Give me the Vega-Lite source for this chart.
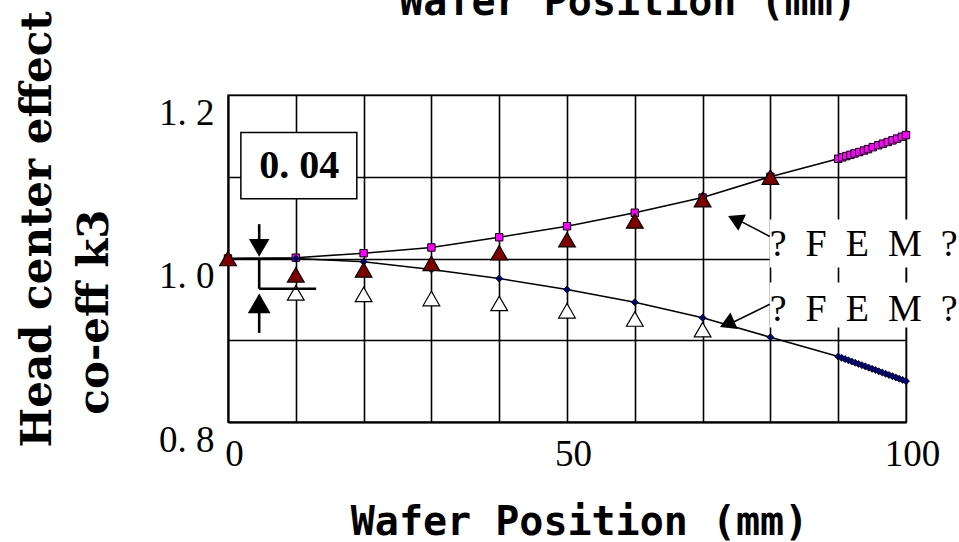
{
  "$schema": "https://vega.github.io/schema/vega-lite/v6.json",
  "width": 678,
  "height": 327,
  "autosize": {"type": "none"},
  "padding": {"left": 228, "top": 95, "right": 53, "bottom": 120},
  "background": "white",
  "config": {"view": {"stroke": "#808080", "strokeWidth": 2}},
  "datasets": {
    "curves": [
      {"x": 0, "y": 1.0, "s": "upper"}, {"x": 10, "y": 1.001, "s": "upper"}, {"x": 20, "y": 1.0065, "s": "upper"}, {"x": 30, "y": 1.0135, "s": "upper"}, {"x": 40, "y": 1.026, "s": "upper"}, {"x": 50, "y": 1.0395, "s": "upper"}, {"x": 60, "y": 1.056, "s": "upper"}, {"x": 70, "y": 1.0746, "s": "upper"}, {"x": 80, "y": 1.1, "s": "upper"},
      {"x": 90, "y": 1.122, "s": "upper"}, {"x": 90.6, "y": 1.1237, "s": "upper"}, {"x": 91.2, "y": 1.1253, "s": "upper"}, {"x": 91.8, "y": 1.1268, "s": "upper"}, {"x": 92.4, "y": 1.1285, "s": "upper"}, {"x": 93.1, "y": 1.1302, "s": "upper"}, {"x": 93.8, "y": 1.1321, "s": "upper"}, {"x": 94.4, "y": 1.1338, "s": "upper"}, {"x": 95.1, "y": 1.1362, "s": "upper"}, {"x": 95.9, "y": 1.1385, "s": "upper"}, {"x": 96.6, "y": 1.1405, "s": "upper"}, {"x": 97.3, "y": 1.1425, "s": "upper"}, {"x": 98.0, "y": 1.1445, "s": "upper"}, {"x": 98.7, "y": 1.1467, "s": "upper"}, {"x": 99.4, "y": 1.149, "s": "upper"}, {"x": 100, "y": 1.151, "s": "upper"},
      {"x": 0, "y": 1.0, "s": "lower"}, {"x": 10, "y": 1.0, "s": "lower"}, {"x": 20, "y": 0.996, "s": "lower"}, {"x": 30, "y": 0.9866, "s": "lower"}, {"x": 40, "y": 0.9755, "s": "lower"}, {"x": 50, "y": 0.962, "s": "lower"}, {"x": 60, "y": 0.9465, "s": "lower"}, {"x": 70, "y": 0.9275, "s": "lower"}, {"x": 80, "y": 0.9037, "s": "lower"},
      {"x": 90, "y": 0.88, "s": "lower"}, {"x": 90.5, "y": 0.8785, "s": "lower"}, {"x": 91, "y": 0.877, "s": "lower"}, {"x": 91.5, "y": 0.8755, "s": "lower"}, {"x": 92, "y": 0.874, "s": "lower"}, {"x": 92.5, "y": 0.8725, "s": "lower"}, {"x": 93, "y": 0.871, "s": "lower"}, {"x": 93.5, "y": 0.8695, "s": "lower"}, {"x": 94, "y": 0.868, "s": "lower"}, {"x": 94.5, "y": 0.8665, "s": "lower"}, {"x": 95, "y": 0.865, "s": "lower"}, {"x": 95.5, "y": 0.8635, "s": "lower"}, {"x": 96, "y": 0.862, "s": "lower"}, {"x": 96.5, "y": 0.8605, "s": "lower"}, {"x": 97, "y": 0.859, "s": "lower"}, {"x": 97.5, "y": 0.8575, "s": "lower"}, {"x": 98, "y": 0.856, "s": "lower"}, {"x": 98.5, "y": 0.8545, "s": "lower"}, {"x": 99, "y": 0.853, "s": "lower"}, {"x": 99.5, "y": 0.8515, "s": "lower"}, {"x": 100, "y": 0.85, "s": "lower"}
    ],
    "tri": [
      {"x": 0, "y": 1.0, "t": "red"}, {"x": 10, "y": 0.98, "t": "red"}, {"x": 20, "y": 0.986, "t": "red"}, {"x": 30, "y": 0.994, "t": "red"}, {"x": 40, "y": 1.007, "t": "red"}, {"x": 50, "y": 1.023, "t": "red"}, {"x": 60, "y": 1.046, "t": "red"}, {"x": 70, "y": 1.072, "t": "red"}, {"x": 80, "y": 1.0995, "t": "red"},
      {"x": 10, "y": 0.958, "t": "white"}, {"x": 20, "y": 0.956, "t": "white"}, {"x": 30, "y": 0.951, "t": "white"}, {"x": 40, "y": 0.945, "t": "white"}, {"x": 50, "y": 0.936, "t": "white"}, {"x": 60, "y": 0.926, "t": "white"}, {"x": 70, "y": 0.913, "t": "white"}
    ],
    "boxes": [
      {"x": 79.9, "x2": 108, "y": 1.0477, "y2": 0.989, "b": "fem"},
      {"x": 79.9, "x2": 108, "y": 0.9706, "y2": 0.9156, "b": "fem"},
      {"x": 1.9, "x2": 19, "y": 1.154, "y2": 1.073, "b": "note"}
    ],
    "segs": [
      {"x": 4.6, "y": 1.042, "x2": 4.6, "y2": 1.02, "g": "bracket"},
      {"x": 4.6, "y": 1.0, "x2": 4.6, "y2": 0.963, "g": "bracket"},
      {"x": 4.6, "y": 0.963, "x2": 13, "y2": 0.963, "g": "bracket"},
      {"x": 4.6, "y": 0.935, "x2": 4.6, "y2": 0.909, "g": "bracket"},
      {"x": 79.9, "y": 1.027, "x2": 75.5, "y2": 1.046, "g": "pointer"},
      {"x": 79.9, "y": 0.944, "x2": 74.5, "y2": 0.922, "g": "pointer"}
    ],
    "heads": [
      {"x": 4.6, "y": 1.013, "id": "h1"},
      {"x": 4.6, "y": 0.945, "id": "h2"},
      {"x": 74.8, "y": 1.048, "id": "h3"},
      {"x": 73.6, "y": 0.92, "id": "h4"}
    ],
    "labels": [
      {"x": 10.5, "y": 1.1135, "label": "0. 04", "k": "note"},
      {"x": 79.9, "y": 1.0028, "label": "?\u00a0 F\u00a0 E\u00a0 M\u00a0 ?", "k": "fem"},
      {"x": 79.9, "y": 0.9233, "label": "?\u00a0 F\u00a0 E\u00a0 M\u00a0 ?", "k": "fem"},
      {"x": 59.0, "y": 1.298, "label": "Wafer Position (mm)", "k": "top"}
    ]
  },
  "encoding": {
    "x": {
      "field": "x", "type": "quantitative",
      "scale": {"domain": [0, 100], "nice": false, "zero": false},
      "axis": {
        "values": [0, 10, 20, 30, 40, 50, 60, 70, 80, 90, 100],
        "labelExpr": "datum.value % 50 == 0 ? datum.label : ''",
        "title": "Wafer Position (mm)",
        "titleFont": "DejaVu Sans Mono", "titleFontWeight": "bold", "titleFontSize": 40, "titleColor": "black",
        "titleX": 351, "titleY": 112, "titleBaseline": "alphabetic", "titleAlign": "center",
        "labelFont": "Liberation Serif", "labelFontSize": 37, "labelColor": "black",
        "labelPadding": 14, "labelBaseline": "top", "labelOffset": 6, "labelFlush": false, "labelOverlap": false,
        "grid": true, "gridColor": "black", "gridWidth": 1.6, "gridOpacity": 1,
        "ticks": false, "tickSize": 0, "domainColor": "black", "domainWidth": 2
      }
    },
    "y": {
      "field": "y", "type": "quantitative",
      "scale": {"domain": [0.8, 1.2], "nice": false, "zero": false},
      "axis": {
        "values": [0.8, 0.9, 1.0, 1.1, 1.2],
        "labelExpr": "datum.value == 1.2 ? '1. 2' : datum.value == 1 ? '1. 0' : datum.value == 0.8 ? '0. 8' : ''",
        "title": ["Head center effect", "\u2800co-eff k3"],
        "titleFont": "DejaVu Serif", "titleFontWeight": "bold", "titleFontSize": 42, "titleColor": "black",
        "titleAngle": -90, "titleAlign": "left", "titleBaseline": "alphabetic",
        "titleX": -178, "titleY": 352, "titleLineHeight": 57,
        "labelFont": "Liberation Serif", "labelFontSize": 37, "labelColor": "black",
        "labelPadding": 14, "labelBaseline": "top", "labelAlign": "right", "labelFlush": false, "labelOverlap": false,
        "grid": true, "gridColor": "black", "gridWidth": 1.6, "gridOpacity": 1,
        "ticks": false, "tickSize": 0, "domainColor": "black", "domainWidth": 2
      }
    }
  },
  "layer": [
    {
      "data": {"name": "boxes"},
      "transform": [{"filter": "datum.b == 'fem'"}],
      "mark": {"type": "rect", "fill": "white", "strokeWidth": 0},
      "encoding": {"x2": {"field": "x2"}, "y2": {"field": "y2"}}
    },
    {
      "data": {"name": "curves"},
      "mark": {"type": "line", "color": "black", "strokeWidth": 1.6},
      "encoding": {"detail": {"field": "s"}}
    },
    {
      "data": {"name": "curves"},
      "transform": [{"filter": "datum.s == 'upper'"}],
      "mark": {"type": "point", "shape": "square", "filled": true, "fill": "#ff00ff", "stroke": "black", "strokeWidth": 1, "size": 55, "opacity": 1}
    },
    {
      "data": {"name": "curves"},
      "transform": [{"filter": "datum.s == 'lower'"}],
      "mark": {"type": "point", "shape": "diamond", "filled": true, "fill": "#000080", "stroke": "black", "strokeWidth": 0.8, "size": 50, "opacity": 1}
    },
    {
      "data": {"name": "tri"},
      "transform": [{"filter": "datum.t == 'red'"}],
      "mark": {"type": "point", "shape": "triangle-up", "filled": true, "fill": "#800000", "stroke": "black", "strokeWidth": 1.2, "size": 280, "opacity": 1}
    },
    {
      "data": {"name": "tri"},
      "transform": [{"filter": "datum.t == 'white'"}],
      "mark": {"type": "point", "shape": "triangle-up", "filled": true, "fill": "white", "stroke": "black", "strokeWidth": 1.2, "size": 280, "opacity": 1}
    },
    {
      "data": {"name": "boxes"},
      "transform": [{"filter": "datum.b == 'note'"}],
      "mark": {"type": "rect", "fill": "white", "stroke": "black", "strokeWidth": 1.5},
      "encoding": {"x2": {"field": "x2"}, "y2": {"field": "y2"}}
    },
    {
      "data": {"name": "segs"},
      "transform": [{"filter": "datum.g == 'bracket'"}],
      "mark": {"type": "rule", "color": "black", "strokeWidth": 2.6},
      "encoding": {"x2": {"field": "x2"}, "y2": {"field": "y2"}}
    },
    {
      "data": {"name": "segs"},
      "transform": [{"filter": "datum.g == 'pointer'"}],
      "mark": {"type": "rule", "color": "black", "strokeWidth": 1.6},
      "encoding": {"x2": {"field": "x2"}, "y2": {"field": "y2"}}
    },
    {
      "data": {"name": "heads"},
      "transform": [{"filter": "datum.id == 'h1'"}],
      "mark": {"type": "point", "shape": "triangle-down", "filled": true, "color": "black", "size": 420, "opacity": 1}
    },
    {
      "data": {"name": "heads"},
      "transform": [{"filter": "datum.id == 'h2'"}],
      "mark": {"type": "point", "shape": "triangle-up", "filled": true, "color": "black", "size": 520, "opacity": 1}
    },
    {
      "data": {"name": "heads"},
      "transform": [{"filter": "datum.id == 'h3'"}],
      "mark": {"type": "point", "shape": "triangle-up", "filled": true, "color": "black", "size": 320, "angle": 295, "opacity": 1}
    },
    {
      "data": {"name": "heads"},
      "transform": [{"filter": "datum.id == 'h4'"}],
      "mark": {"type": "point", "shape": "triangle-up", "filled": true, "color": "black", "size": 320, "angle": 246, "opacity": 1}
    },
    {
      "data": {"name": "labels"},
      "transform": [{"filter": "datum.k == 'note'"}],
      "mark": {"type": "text", "font": "Liberation Serif", "fontWeight": "bold", "fontSize": 40, "align": "center", "baseline": "middle", "color": "black"},
      "encoding": {"text": {"field": "label"}}
    },
    {
      "data": {"name": "labels"},
      "transform": [{"filter": "datum.k == 'fem'"}],
      "mark": {"type": "text", "font": "Liberation Serif", "fontSize": 38, "align": "left", "baseline": "alphabetic", "color": "black"},
      "encoding": {"text": {"field": "label"}}
    },
    {
      "data": {"name": "labels"},
      "transform": [{"filter": "datum.k == 'top'"}],
      "mark": {"type": "text", "font": "DejaVu Sans Mono", "fontWeight": "bold", "fontSize": 40, "align": "center", "baseline": "alphabetic", "color": "black"},
      "encoding": {"text": {"field": "label"}}
    }
  ]
}
